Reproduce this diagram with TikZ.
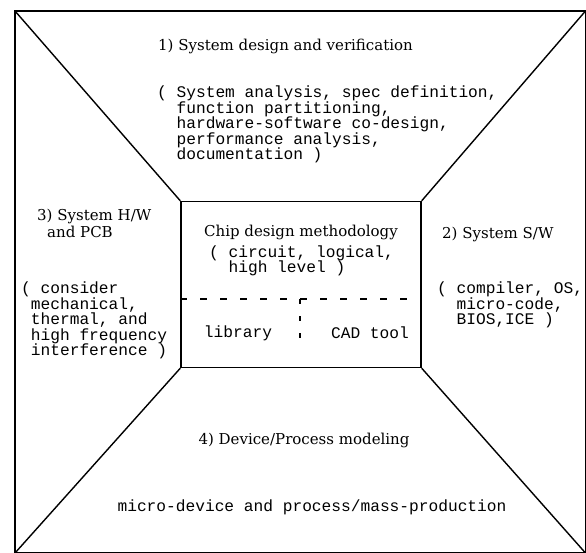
\documentclass[tikz,border=0pt]{standalone}
\usepackage{fontspec}
\setmonofont{Liberation Mono}
\newfontfamily\headfont{DejaVu Serif}
\usetikzlibrary{positioning}
\tikzset{
  frame/.style={line width=1.4pt},
  chipbox/.style={draw, line width=1.4pt, minimum width=240pt, minimum height=166pt, inner sep=0pt},
  heading/.style={font=\headfont\fontsize{15}{17}\selectfont, inner sep=0pt},
  mono/.style={font=\ttfamily\fontsize{16.2}{15.4}\selectfont, align=left, inner sep=0pt},
  divider/.style={line width=1.1pt, dash pattern=on 7pt off 13pt},
}
\newcommand{\indt}{\phantom{(}\ }

\begin{document}
\begin{tikzpicture}[x=1pt, y=-1pt]
  \useasboundingbox (0,0) rectangle (586,552);
  \coordinate (otl) at (15,11);
  \coordinate (otr) at (585.5,11);
  \coordinate (obl) at (15,553);
  \coordinate (obr) at (585.5,553);
  \draw[frame] (otl) rectangle (obr);

  \node[chipbox] (chip) at (301,284.5) {};
  \draw[frame] (otl) -- (chip.north west);
  \draw[frame] (otr) -- (chip.north east);
  \draw[frame] (obl) -- (chip.south west);
  \draw[frame] (obr) -- (chip.south east);

  \node[heading, anchor=west] (sysdesign) at (158,46) {1) System design and verification};
  \node[mono, anchor=north west] (sysdesigntxt) at (157,86) {( System analysis, spec definition,\\ \indt function partitioning,\\ \indt hardware-software co-design,\\ \indt performance analysis,\\ \indt documentation )};

  \node[heading, anchor=north west, align=left] (hwpcb) at (37,209) {3) System H/W\\\hspace*{10pt}and PCB};
  \node[mono, anchor=north west] (hwpcbtxt) at (21,282) {( consider\\\phantom{(}mechanical,\\\phantom{(}thermal, and\\\phantom{(}high frequency\\\phantom{(}interference )};

  \node[heading, anchor=west] (sysw) at (442,234) {2) System S/W};
  \node[mono, anchor=north west] (syswtxt) at (437,282) {( compiler, OS,\\ \indt micro-code,\\ \indt BIOS,ICE )};

  \node[heading] (chiptitle) at (301,232) {Chip design methodology};
  \node[mono, anchor=north west] (chiptxt) at (209,245.5) {( circuit, logical,\\ \indt high level )};
  \coordinate (divL) at (chip.west |- 0,299);
  \coordinate (divR) at (chip.east |- 0,299);
  \coordinate (divT) at (300,299);
  \coordinate (divB) at (300,340);
  \draw[divider] (divL) -- (divR);
  \draw[divider, dash pattern=on 5pt off 12pt] (divT) -- (divB);
  \node[mono] (library) at (238,333) {library};
  \node[mono] (cadtool) at (370,333) {CAD tool};

  \node[heading] (devproc) at (304,440) {4) Device/Process modeling};
  \node[mono] (devproctxt) at (312,507) {micro-device and process/mass-production};
\end{tikzpicture}
\end{document}
